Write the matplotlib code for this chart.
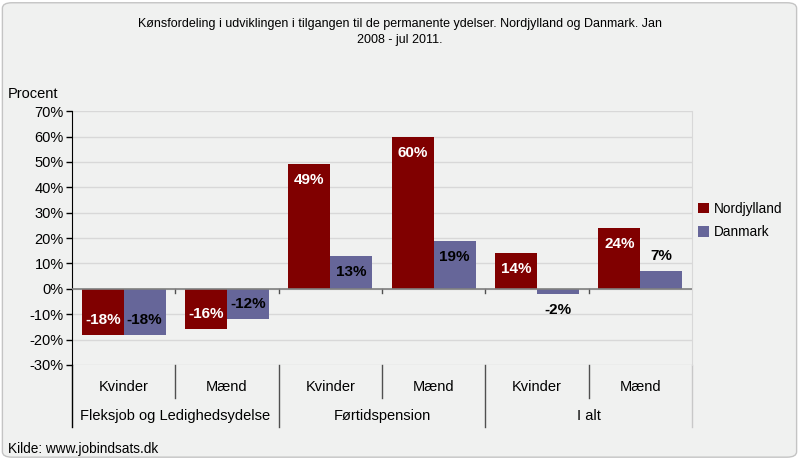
import numpy as np
import matplotlib.pyplot as plt
from matplotlib.patches import FancyBboxPatch
from matplotlib.transforms import blended_transform_factory

plt.rcParams['font.family'] = ['Liberation Sans', 'DejaVu Sans']

# data
grupper = ['Fleksjob og Ledighedsydelse', 'Førtidspension', 'I alt']
koen = ['Kvinder', 'Mænd', 'Kvinder', 'Mænd', 'Kvinder', 'Mænd']
nordjylland = [-18, -16, 49, 60, 14, 24]
danmark = [-18, -12, 13, 19, -2, 7]
yticks = [-30, -20, -10, 0, 10, 20, 30, 40, 50, 60, 70]

bg = '#f0f1f0'
roed = '#800000'
blaa = '#666699'

fig = plt.figure(figsize=(7.99, 4.59), dpi=100, facecolor='white')
ramme = FancyBboxPatch((0.003, 0.004), 0.994, 0.99, boxstyle='round,pad=0,rounding_size=0.012',
                       transform=fig.transFigure, facecolor=bg, edgecolor='#c4c4c4', lw=1, zorder=-10)
fig.add_artist(ramme)
ax = fig.add_axes([0.0901, 0.2048, 0.776, 0.553])
ax.set_facecolor(bg)

x = np.arange(len(koen)) + 0.5
w = 0.405
b1 = ax.bar(x - w/2, nordjylland, w, color=roed, zorder=3)
b2 = ax.bar(x + w/2, danmark, w, color=blaa, zorder=3)

ax.set_xlim(0, 6)
ax.set_ylim(-30, 70)
ax.set_yticks(yticks)
ax.set_yticklabels([f'{v}%' for v in yticks], fontsize=10.5)
ax.yaxis.grid(True, color='#d8d8d8', lw=1, zorder=0)
ax.axhline(0, color='#808080', lw=1.2, zorder=4)
ax.set_xticks([])
for s in ['top', 'bottom']:
    ax.spines[s].set_visible(False)
ax.spines['right'].set_color('#d8d8d8')
ax.spines['left'].set_bounds(-30, 70)
ax.tick_params(axis='y', length=4, width=1, pad=2)

# værdier på søjlerne
for bars, vals, col in [(b1, nordjylland, 'white'), (b2, danmark, 'black')]:
    for b, v in zip(bars, vals):
        cx = b.get_x() + b.get_width()/2
        inside = abs(v) >= 10
        off = -16 if (v > 0) == inside else 15
        ax.annotate(f'{v}%', (cx, v), xytext=(0, off * 0.72), textcoords='offset points',
                    ha='center', va='center', color=col, fontsize=11, fontweight='bold', zorder=5)

# kategoriakse
tr = blended_transform_factory(ax.transData, ax.transAxes)
for i in range(7):
    bund = -0.244 if i % 2 == 0 else -0.13
    farve = 'black' if i == 0 else ('#c8c8c8' if i == 6 else '#505050')
    ax.plot([i, i], [0, bund], transform=tr, color=farve, lw=1, clip_on=False)
    if 0 < i < 6:
        ax.plot([i, i], [0.3, 0.285], transform=tr, color='#505050', lw=1, clip_on=False)
for xi, k in zip(x, koen):
    ax.text(xi, -0.087, k, transform=tr, ha='center', va='center', fontsize=10.5)
for j, g in enumerate(grupper):
    ax.text(2*j + 1, -0.2, g, transform=tr, ha='center', va='center', fontsize=10.5)

fig.text(0.5, 0.96, 'Kønsfordeling i udviklingen i tilgangen til de permanente ydelser. Nordjylland og Danmark. Jan\n2008 - jul 2011.',
         ha='center', va='top', fontsize=9, linespacing=1.35)
fig.text(0.01, 0.795, 'Procent', ha='left', va='center', fontsize=10.5)
fig.text(0.01, 0.022, 'Kilde: www.jobindsats.dk', ha='left', va='center', fontsize=9.8)

fig.legend([b1, b2], ['Nordjylland', 'Danmark'], loc='center left', bbox_to_anchor=(0.858, 0.52),
           frameon=False, fontsize=9.8, handlelength=0.8, handleheight=0.8, handletextpad=0.4, labelspacing=0.7)

fig.savefig('out.png', dpi=100, facecolor='white')
